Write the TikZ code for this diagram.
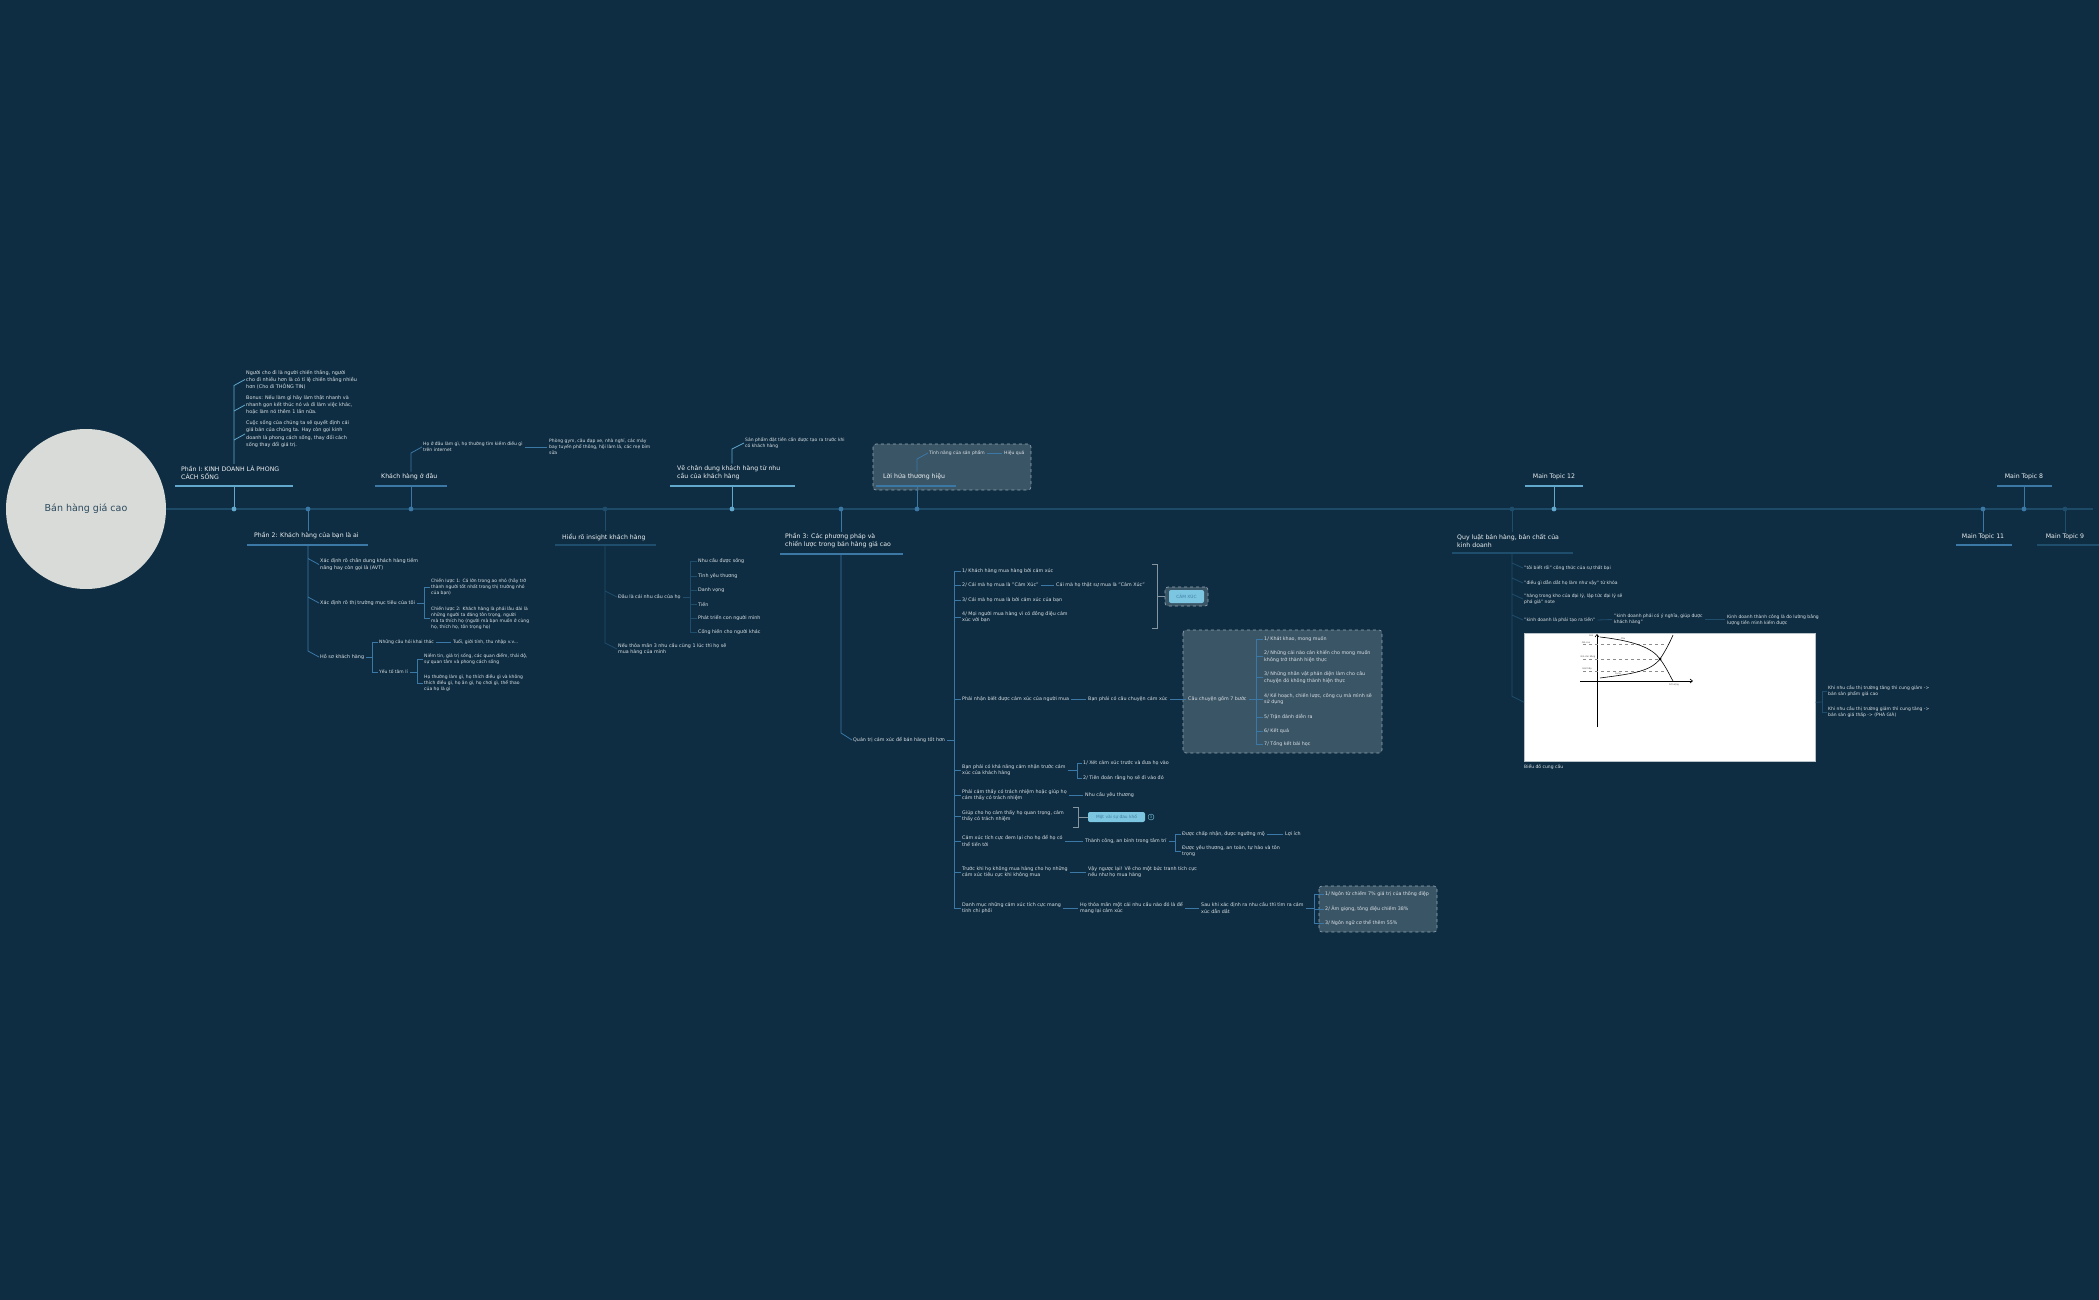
\documentclass[tikz,border=0pt]{standalone}
\usepackage{fontspec}
\setmainfont{DejaVu Sans}
\usetikzlibrary{arrows.meta,positioning,fit}
\definecolor{MapBg}{HTML}{0E2D42}
\definecolor{MapAxis}{HTML}{1D4A66}
\definecolor{MapLight}{HTML}{62A8CC}
\definecolor{MapMid}{HTML}{3B78A6}
\definecolor{MapDark}{HTML}{1F4D6C}
\definecolor{MapText}{HTML}{EEF1F3}
\definecolor{MapSub}{HTML}{DCE2E6}
\definecolor{MapBox}{HTML}{3A5566}
\definecolor{MapDash}{HTML}{9AA8B2}
\definecolor{MapRoot}{HTML}{D8DBD7}
\definecolor{MapRootText}{HTML}{2D4A5E}
\definecolor{MapTag}{HTML}{7CC6E2}
\definecolor{MapTagText}{HTML}{3E7E9E}

\begin{document}
\begin{tikzpicture}[x=1pt,y=-1pt,
  root/.style={circle,fill=MapRoot,minimum size=160pt,inner sep=0pt,
    text=MapRootText,font=\fontsize{9.5}{11}\selectfont},
  topic/.style={anchor=west,inner sep=0pt,align=left,text=MapText,
    font=\fontsize{6.2}{8}\selectfont},
  sub/.style={anchor=west,inner sep=0pt,align=left,text=MapSub,
    font=\fontsize{4.9}{7.2}\selectfont},
  leaf/.style={anchor=west,inner sep=0pt,align=left,text=MapSub,
    font=\fontsize{4.8}{6.2}\selectfont},
  small/.style={anchor=west,inner sep=0pt,align=left,text=MapSub,
    font=\fontsize{4.5}{6}\selectfont},
  axis/.style={draw=MapAxis,line width=1.2pt},
  ulL/.style={draw=MapLight,line width=1.4pt},
  ulM/.style={draw=MapMid,line width=1.4pt},
  ulD/.style={draw=MapDark,line width=1.4pt},
  lnL/.style={draw=MapLight,line width=0.8pt},
  lnM/.style={draw=MapMid,line width=0.8pt},
  lnD/.style={draw=MapDark,line width=0.8pt},
  dashbox/.style={draw=MapDash,dashed,fill=MapBox,rounded corners=3pt,line width=0.6pt},
  bracket/.style={draw=MapDash!85!MapBg,line width=0.7pt},
  tag/.style={fill=MapTag,text=MapTagText,rounded corners=2pt,inner sep=0pt,
    font=\fontsize{4.3}{5}\selectfont},
  plot/.style={draw=black,line width=0.6pt},
  guide/.style={draw=black!45,dashed,line width=0.35pt},
  plotlabel/.style={inner sep=0pt,text=black!70,font=\fontsize{2.2}{2.6}\selectfont}
]
\fill[MapBg] (0,0) rectangle (2099,1300);
\useasboundingbox (0,0) rectangle (2099,1300);

% dashed boundaries behind the texts
\draw[dashbox] (873,444) rectangle (1031,490);
\draw[dashbox] (1183,630) rectangle (1382,753);
\draw[dashbox] (1319,886) rectangle (1437,932);

% central topic and main line
\node[root] (root) at (86,509) {Bán hàng giá cao};
\coordinate (axisend) at (2093,509);
\draw[axis] (root.east) -- (axisend);

% Phan I
\coordinate (p1dot) at (234,509);
\coordinate (p1u) at (234,486);
\node[topic] (p1) at (181,473) {Phần I: KINH DOANH LÀ PHONG\\CÁCH SỐNG};
\node[sub] (p1a) at (246,379.5) {Người cho đi là người chiến thắng, người\\cho đi nhiều hơn là có tỉ lệ chiến thắng nhiều\\hơn (Cho đi THÔNG TIN)};
\node[sub] (p1b) at (246,405) {Bonus: Nếu làm gì hãy làm thật nhanh và\\nhanh gọn kết thúc nó và đi làm việc khác,\\hoặc làm nó thêm 1 lần nữa.};
\node[sub] (p1c) at (246,434) {Cuộc sống của chúng ta sẽ quyết định cái\\giá bán của chúng ta. Hay còn gọi kinh\\doanh là phong cách sống, thay đổi cách\\sống thay đổi giá trị.};
\draw[ulL] (175,486) -- (293,486);
\draw[lnL] (p1dot) -- (p1u);
\draw[lnL] ([yshift=2pt]p1.north -| p1dot) -- ([yshift=-6pt]p1a.west -| p1dot) -- ([xshift=-1pt]p1a.west);
\draw[lnL] ([yshift=-6pt]p1b.west -| p1dot) -- ([xshift=-1pt]p1b.west);
\draw[lnL] ([yshift=-6pt]p1c.west -| p1dot) -- ([xshift=-1pt]p1c.west);
\fill[MapLight] (p1dot) circle (2.4pt);

% Phan 2
\coordinate (p2dot) at (308,509);
\coordinate (p2u) at (308,545);
\node[topic] (p2) at (254,536) {Phần 2: Khách hàng của bạn là ai};
\node[sub] (p2a) at (320,564.5) {Xác định rõ chân dung khách hàng tiềm\\năng hay còn gọi là (AVT)};
\node[sub] (p2b) at (320,603) {Xác định rõ thị trường mục tiêu của tôi};
\node[small] (p2b1) at (431,587.5) {Chiến lược 1: Cá lớn trong ao nhỏ (hãy trở\\thành người tốt nhất trong thị trường nhỏ\\của bạn)};
\node[small] (p2b2) at (431,618) {Chiến lược 2: Khách hàng là phải lâu dài là\\những người ta đáng tôn trọng, người\\mà ta thích họ (người mà bạn muốn ở cùng\\họ, thích họ, tôn trọng họ)};
\node[sub] (p2c) at (320,657) {Hồ sơ khách hàng};
\node[small] (p2c1) at (379,642) {Những câu hỏi khai thác};
\node[small] (p2c1a) at (453,642) {Tuổi, giới tính, thu nhập v.v...};
\node[small] (p2c2) at (379,672) {Yếu tố tâm lí};
\node[small] (p2c2a) at (424,659) {Niềm tin, giá trị sống, các quan điểm, thái độ,\\sự quan tâm và phong cách sống};
\node[small] (p2c2b) at (424,683.5) {Họ thường làm gì, họ thích điều gì và không\\thích điều gì, họ ăn gì, họ chơi gì, thể thao\\của họ là gì};
\draw[ulM] (247,545) -- (368,545);
\draw[lnM] (p2dot) -- ([yshift=2pt]p2.north -| p2dot);
\draw[lnM] (p2u) -- ([yshift=6pt]p2c.west -| p2u) -- ([xshift=-1pt]p2c.west);
\draw[lnM] ([yshift=6pt]p2a.west -| p2u) -- ([xshift=-1pt]p2a.west);
\draw[lnM] ([yshift=6pt]p2b.west -| p2u) -- ([xshift=-1pt]p2b.west);
\coordinate (p2bk) at ([xshift=-7pt]p2b1.west |- p2b.east);
\draw[lnM] ([xshift=2pt]p2b.east) -- (p2bk) |- ([xshift=-1pt]p2b1.west);
\draw[lnM] (p2bk) |- ([xshift=-1pt]p2b2.west);
\coordinate (p2ck) at ([xshift=-7pt]p2c1.west |- p2c.east);
\draw[lnM] ([xshift=2pt]p2c.east) -- (p2ck) |- ([xshift=-1pt]p2c1.west);
\draw[lnM] (p2ck) |- ([xshift=-1pt]p2c2.west);
\draw[lnM] ([xshift=2pt]p2c1.east) -- ([xshift=-2pt]p2c1a.west);
\coordinate (p2c2k) at ([xshift=-7pt]p2c2a.west |- p2c2.east);
\draw[lnM] ([xshift=2pt]p2c2.east) -- (p2c2k) |- ([xshift=-1pt]p2c2a.west);
\draw[lnM] (p2c2k) |- ([xshift=-1pt]p2c2b.west);
\fill[MapMid] (p2dot) circle (2.4pt);

% Khach hang o dau
\coordinate (kddot) at (411,509);
\coordinate (kdu) at (411,486);
\node[topic] (kd) at (381,477) {Khách hàng ở đâu};
\node[small] (kd1) at (423,447) {Họ ở đâu làm gì, họ thường tìm kiếm điều gì\\trên internet};
\node[small] (kd2) at (549,447) {Phòng gym, câu đạp xe, nhà nghỉ, các máy\\bay tuyến phổ thông, hội làm lá, các mẹ bỉm\\sữa};
\draw[ulM] (375,486) -- (447,486);
\draw[lnM] (kddot) -- (kdu);
\draw[lnM] ([yshift=2pt]kd.north -| kddot) -- ([yshift=-6pt]kd1.west -| kddot) -- ([xshift=-1pt]kd1.west);
\draw[lnM] ([xshift=2pt]kd1.east) -- ([xshift=-2pt]kd2.west);
\fill[MapMid] (kddot) circle (2.4pt);

% Hieu ro insight
\coordinate (hrdot) at (605,509);
\coordinate (hru) at (605,545);
\node[topic] (hr) at (562,537) {Hiểu rõ insight khách hàng};
\node[leaf] (hr1) at (618,597) {Đâu là cái nhu cầu của họ};
\node[leaf] (hr1a) at (698,561) {Nhu cầu được sống};
\node[leaf] (hr1b) at (698,576) {Tình yêu thương};
\node[leaf] (hr1c) at (698,590) {Danh vọng};
\node[leaf] (hr1d) at (698,604) {Tiền};
\node[leaf] (hr1e) at (698,618) {Phát triển con người mình};
\node[leaf] (hr1f) at (698,632) {Cống hiến cho người khác};
\node[leaf] (hr2) at (618,649) {Nếu thỏa mãn 3 nhu cầu cùng 1 lúc thì họ sẽ\\mua hàng của mình};
\draw[ulD] (555,545) -- (656,545);
\draw[lnD] (hrdot) -- ([yshift=2pt]hr.north -| hrdot);
\draw[lnD] (hru) -- ([yshift=6pt]hr2.west -| hru) -- ([xshift=-1pt]hr2.west);
\draw[lnD] ([yshift=6pt]hr1.west -| hru) -- ([xshift=-1pt]hr1.west);
\coordinate (hr1k) at ([xshift=-8pt]hr1a.west |- hr1.east);
\draw[lnD] ([xshift=2pt]hr1.east) -- (hr1k);
\draw[lnD] (hr1k) |- ([xshift=-1pt]hr1a.west);
\draw[lnD] (hr1k) |- ([xshift=-1pt]hr1b.west);
\draw[lnD] (hr1k) |- ([xshift=-1pt]hr1c.west);
\draw[lnD] (hr1k) |- ([xshift=-1pt]hr1d.west);
\draw[lnD] (hr1k) |- ([xshift=-1pt]hr1e.west);
\draw[lnD] (hr1k) |- ([xshift=-1pt]hr1f.west);
\fill[MapDark] (hrdot) circle (2.4pt);

% Ve chan dung
\coordinate (vcdot) at (732,509);
\coordinate (vcu) at (732,486);
\node[topic] (vc) at (677,473) {Vẽ chân dung khách hàng từ nhu\\cầu của khách hàng};
\node[small] (vc1) at (745,443) {Sản phẩm đặt tiền cần được tạo ra trước khi\\có khách hàng};
\draw[ulL] (670,486) -- (795,486);
\draw[lnL] (vcdot) -- (vcu);
\draw[lnL] ([yshift=2pt]vc.north -| vcdot) -- ([yshift=-6pt]vc1.west -| vcdot) -- ([xshift=-1pt]vc1.west);
\fill[MapLight] (vcdot) circle (2.4pt);

% Loi hua thuong hieu
\coordinate (lhdot) at (917,509);
\coordinate (lhu) at (917,486);
\node[topic] (lh) at (883,477) {Lời hứa thương hiệu};
\node[small] (lh1) at (929,453) {Tính năng của sản phẩm};
\node[small] (lh2) at (1004,453) {Hiệu quả};
\draw[ulM] (876,486) -- (956,486);
\draw[lnM] (lhdot) -- (lhu);
\draw[lnM] ([yshift=2pt]lh.north -| lhdot) -- ([yshift=-6pt]lh1.west -| lhdot) -- ([xshift=-1pt]lh1.west);
\draw[lnM] ([xshift=2pt]lh1.east) -- ([xshift=-2pt]lh2.west);
\fill[MapMid] (lhdot) circle (2.4pt);

% Phan 3
\coordinate (p3dot) at (841,509);
\coordinate (p3u) at (841,554);
\coordinate (sp3) at (954,740);
\node[topic] (p3) at (785,541) {Phần 3: Các phương pháp và\\chiến lược trong bán hàng giá cao};
\node[leaf] (qt) at (853,740) {Quản trị cảm xúc để bán hàng tốt hơn};
\node[leaf] (c1) at (962,571) {1/ Khách hàng mua hàng bởi cảm xúc};
\node[leaf] (c2) at (962,585) {2/ Cái mà họ mua là "Cảm Xúc"};
\node[leaf] (c2a) at (1056,585) {Cái mà họ thật sự mua là "Cảm Xúc"};
\node[leaf] (c3) at (962,600) {3/ Cái mà họ mua là bởi cảm xúc của bạn};
\node[leaf] (c4) at (962,617) {4/ Mọi người mua hàng vì có đồng điệu cảm\\xúc với bạn};
\node[dashbox,minimum width=43pt,minimum height=19pt,inner sep=0pt] (cxbox) at (1186.5,596.5) {};
\node[tag,minimum width=35pt,minimum height=13pt] (camxuc) at (1186.5,596.5) {CẢM XÚC};
\node[leaf] (c5) at (962,699) {Phải nhận biết được cảm xúc của người mua};
\node[leaf] (c5a) at (1088,699) {Bạn phải có câu chuyện cảm xúc};
\node[leaf] (c5b) at (1188,699) {Câu chuyện gồm 7 bước};
\node[leaf] (st1) at (1264,639) {1/ Khát khao, mong muốn};
\node[leaf] (st2) at (1264,656.5) {2/ Những cái nào cản khiến cho mong muốn\\không trở thành hiện thực};
\node[leaf] (st3) at (1264,677.5) {3/ Những nhân vật phản diện làm cho câu\\chuyện đó không thành hiện thực};
\node[leaf] (st4) at (1264,699) {4/ Kế hoạch, chiến lược, công cụ mà mình sẽ\\sử dụng};
\node[leaf] (st5) at (1264,717) {5/ Trận đánh diễn ra};
\node[leaf] (st6) at (1264,731) {6/ Kết quả};
\node[leaf] (st7) at (1264,744) {7/ Tổng kết bài học};
\node[leaf] (c6) at (962,770) {Bạn phải có khả năng cảm nhận trước cảm\\xúc của khách hàng};
\node[leaf] (c6a) at (1083,763) {1/ Xét cảm xúc trước và đưa họ vào};
\node[leaf] (c6b) at (1083,778) {2/ Tiên đoán rằng họ sẽ đi vào đó};
\node[leaf] (c7) at (962,795) {Phải cảm thấy có trách nhiệm hoặc giúp họ\\cảm thấy có trách nhiệm};
\node[leaf] (c7a) at (1085,795) {Nhu cầu yêu thương};
\node[leaf] (c8) at (962,816) {Giúp cho họ cảm thấy họ quan trọng, cảm\\thấy có trách nhiệm};
\node[tag,minimum width=57pt,minimum height=10pt] (pain) at (1116.5,817) {Một vài sự đau khổ};
\node[circle,draw=MapTag,line width=0.4pt,minimum size=6pt,inner sep=0pt,text=MapTag,
  font=\fontsize{3.5}{4}\selectfont] (paincount) at (1151,817) {3};
\node[leaf] (c9) at (962,841) {Cảm xúc tích cực đem lại cho họ để họ có\\thể tiến tới};
\node[leaf] (c9a) at (1085,841) {Thành công, an bình trong tâm trí};
\node[leaf] (c9b) at (1182,834) {Được chấp nhận, được ngưỡng mộ};
\node[leaf] (c9b1) at (1285,834) {Lợi ích};
\node[leaf] (c9c) at (1182,851) {Được yêu thương, an toàn, tự hào và tôn\\trọng};
\node[leaf] (c10) at (962,872) {Trước khi họ không mua hàng cho họ những\\cảm xúc tiêu cực khi không mua};
\node[leaf] (c10a) at (1088,872) {Vậy ngược lại! Vẽ cho một bức tranh tích cực\\nếu như họ mua hàng};
\node[leaf] (c11) at (962,908) {Danh mục những cảm xúc tích cực mang\\tính chi phối};
\node[leaf] (c11a) at (1080,908) {Họ thỏa mãn một cái nhu cầu nào đó là để\\mang lại cảm xúc};
\node[leaf] (c11b) at (1201,908) {Sau khi xác định ra nhu cầu thì tìm ra cảm\\xúc dẫn dắt};
\node[leaf] (vo1) at (1325,894) {1/ Ngôn từ chiếm 7\% giá trị của thông điệp};
\node[leaf] (vo2) at (1325,909) {2/ Âm giọng, tông điệu chiếm 38\%};
\node[leaf] (vo3) at (1325,923) {3/ Ngôn ngữ cơ thể thêm 55\%};
\draw[ulM] (780,554) -- (903,554);
\draw[lnM] (p3dot) -- ([yshift=2pt]p3.north -| p3dot);
\draw[lnM] (p3u) -- ([yshift=7pt]qt.west -| p3u) -- ([xshift=-1pt]qt.west);
\draw[lnM] ([xshift=2pt]qt.east) -- (sp3);
\draw[lnM] (sp3 |- c1.west) -- (sp3 |- c11.west);
\draw[lnM] (sp3 |- c1.west) -- ([xshift=-1pt]c1.west);
\draw[lnM] (sp3 |- c2.west) -- ([xshift=-1pt]c2.west);
\draw[lnM] (sp3 |- c3.west) -- ([xshift=-1pt]c3.west);
\draw[lnM] (sp3 |- c4.west) -- ([xshift=-1pt]c4.west);
\draw[lnM] (sp3 |- c5.west) -- ([xshift=-1pt]c5.west);
\draw[lnM] (sp3 |- c6.west) -- ([xshift=-1pt]c6.west);
\draw[lnM] (sp3 |- c7.west) -- ([xshift=-1pt]c7.west);
\draw[lnM] (sp3 |- c8.west) -- ([xshift=-1pt]c8.west);
\draw[lnM] (sp3 |- c9.west) -- ([xshift=-1pt]c9.west);
\draw[lnM] (sp3 |- c10.west) -- ([xshift=-1pt]c10.west);
\draw[lnM] (sp3 |- c11.west) -- ([xshift=-1pt]c11.west);
\draw[lnM] ([xshift=2pt]c2.east) -- ([xshift=-2pt]c2a.west);
\coordinate (sumA) at (1157,564);
\coordinate (sumB) at (1157,628);
\draw[bracket] ([xshift=-5pt]sumA) -- (sumA) -- (sumB) -- ([xshift=-5pt]sumB);
\draw[bracket] (sumA |- cxbox.west) -- (cxbox.west);
\draw[lnM] ([xshift=2pt]c5.east) -- ([xshift=-2pt]c5a.west);
\draw[lnM] ([xshift=2pt]c5a.east) -- ([xshift=-2pt]c5b.west);
\coordinate (stk) at ([xshift=-8pt]st1.west |- c5b.east);
\draw[lnM] ([xshift=2pt]c5b.east) -- (stk);
\draw[lnM] (stk) |- ([xshift=-1pt]st1.west);
\draw[lnM] (stk) |- ([xshift=-1pt]st2.west);
\draw[lnM] (stk) |- ([xshift=-1pt]st3.west);
\draw[lnM] (stk) |- ([xshift=-1pt]st4.west);
\draw[lnM] (stk) |- ([xshift=-1pt]st5.west);
\draw[lnM] (stk) |- ([xshift=-1pt]st6.west);
\draw[lnM] (stk) |- ([xshift=-1pt]st7.west);
\coordinate (c6k) at ([xshift=-6pt]c6a.west |- c6.east);
\draw[lnM] ([xshift=2pt]c6.east) -- (c6k) |- ([xshift=-1pt]c6a.west);
\draw[lnM] (c6k) |- ([xshift=-1pt]c6b.west);
\draw[lnM] ([xshift=2pt]c7.east) -- ([xshift=-2pt]c7a.west);
\coordinate (sumC) at (1078,807);
\coordinate (sumD) at (1078,827);
\draw[bracket] ([xshift=-5pt]sumC) -- (sumC) -- (sumD) -- ([xshift=-5pt]sumD);
\draw[bracket] (sumC |- pain.west) -- (pain.west);
\draw[lnM] ([xshift=2pt]c9.east) -- ([xshift=-2pt]c9a.west);
\coordinate (c9k) at ([xshift=-7pt]c9b.west |- c9a.east);
\draw[lnM] ([xshift=2pt]c9a.east) -- (c9k) |- ([xshift=-1pt]c9b.west);
\draw[lnM] (c9k) |- ([xshift=-1pt]c9c.west);
\draw[lnM] ([xshift=2pt]c9b.east) -- ([xshift=-2pt]c9b1.west);
\draw[lnM] ([xshift=2pt]c10.east) -- ([xshift=-2pt]c10a.west);
\draw[lnM] ([xshift=2pt]c11.east) -- ([xshift=-2pt]c11a.west);
\draw[lnM] ([xshift=2pt]c11a.east) -- ([xshift=-2pt]c11b.west);
\coordinate (vok) at ([xshift=-11pt]vo1.west |- c11b.east);
\draw[lnM] ([xshift=2pt]c11b.east) -- (vok);
\draw[lnM] (vok) |- ([xshift=-1pt]vo1.west);
\draw[lnM] (vok) |- ([xshift=-1pt]vo2.west);
\draw[lnM] (vok) |- ([xshift=-1pt]vo3.west);
\fill[MapMid] (p3dot) circle (2.4pt);

% Quy luat ban hang
\coordinate (qldot) at (1512,509);
\coordinate (qlu) at (1512,553);
\node[topic] (ql) at (1457,541) {Quy luật bán hàng, bản chất của\\kinh doanh};
\node[small] (q1) at (1524,568) {"tôi biết rồi" công thức của sự thất bại};
\node[small] (q2) at (1524,583) {"điều gì dẫn dắt họ làm như vậy" từ khóa};
\node[small] (q3) at (1524,599) {"hàng trong kho của đại lý, lập tức đại lý sẽ\\phá giá" note};
\node[small] (q4) at (1524,620) {"kinh doanh là phải tạo ra tiền"};
\node[small] (q4a) at (1614,619.5) {"kinh doanh phải có ý nghĩa, giúp được\\khách hàng"};
\node[small] (q4b) at (1727,619.5) {Kinh doanh thành công là đo lường bằng\\lượng tiền mình kiếm được};
\node[draw=MapDash!70,fill=white,line width=0.5pt,anchor=north west,
  minimum width=291pt,minimum height=128pt,inner sep=0pt] (chart) at (1524,633) {};
\node[small] (chartcap) at (1524,767) {Biểu đồ cung cầu};
\node[small] (qr1) at (1828,691.5) {Khi nhu cầu thị trường tăng thì cung giảm ->\\bán sản phẩm giá cao};
\node[small] (qr2) at (1828,712.5) {Khi nhu cầu thị trường giảm thì cung tăng ->\\bán sản giá thấp -> (PHÁ GIÁ)};
\draw[ulD] (1452,553) -- (1573,553);
\draw[lnD] (qldot) -- ([yshift=2pt]ql.north -| qldot);
\draw[lnD] (qlu) -- ([yshift=1pt]chart.west -| qlu) -- ([yshift=-5pt]chart.west);
\draw[lnD] ([yshift=5pt]q1.west -| qlu) -- ([xshift=-1pt]q1.west);
\draw[lnD] ([yshift=5pt]q2.west -| qlu) -- ([xshift=-1pt]q2.west);
\draw[lnD] ([yshift=5pt]q3.west -| qlu) -- ([xshift=-1pt]q3.west);
\draw[lnD] ([yshift=5pt]q4.west -| qlu) -- ([xshift=-1pt]q4.west);
\draw[lnD] ([xshift=2pt]q4.east) -- ([xshift=-2pt]q4a.west);
\draw[lnD] ([xshift=2pt]q4a.east) -- ([xshift=-2pt]q4b.west);
\coordinate (chk) at ([xshift=-6pt]qr1.west |- 0,702);
\draw[lnD] ([yshift=-5pt]chart.east) -- (chk);
\draw[lnD] (chk) |- ([xshift=-1pt]qr1.west);
\draw[lnD] (chk) |- ([xshift=-1pt]qr2.west);
\fill[MapDark] (qldot) circle (2.4pt);

% supply and demand sketch inside the picture
\draw[plot,-{Straight Barb[length=2.5pt,width=4pt]}] (1597,727) -- (1597,634);
\draw[plot,-{Straight Barb[length=2.5pt,width=4pt]}] (1580,681) -- (1693,681);
\draw[guide] (1583,644) -- (1667,644);
\draw[guide] (1583,659) -- (1660,659);
\draw[guide] (1583,671) -- (1667,671);
\draw[plot] (1600,637) .. controls (1635,641) and (1652,648) .. (1660,659)
  .. controls (1666,667) and (1669,674) .. (1673,681);
\draw[plot] (1600,678) .. controls (1630,674) and (1650,672) .. (1660,659)
  .. controls (1666,650) and (1670,642) .. (1673,635);
\fill (1660,659) circle (1.5pt);
\node[plotlabel] (lblgia) at (1591,636) {Giá};
\node[plotlabel] (lblcau) at (1623,639) {Cầu};
\node[plotlabel] (lblcung) at (1618,674) {Cung};
\node[plotlabel] (lblcao) at (1586,643) {Giá cao};
\node[plotlabel] (lblcb) at (1588,657) {Giá cân bằng};
\node[plotlabel] (lblthap) at (1587,669) {Giá thấp};
\node[plotlabel] (lblsl) at (1674,685) {Số lượng};

% Main Topic 12
\coordinate (m12dot) at (1554,509);
\coordinate (m12u) at (1554,486);
\node[topic,anchor=center] (m12) at (1554,477) {Main Topic 12};
\draw[ulL] (1525,486) -- (1583,486);
\draw[lnL] (m12dot) -- (m12u);
\fill[MapLight] (m12dot) circle (2.4pt);

% Main Topic 11
\coordinate (m11dot) at (1983,509);
\node[topic,anchor=center] (m11) at (1983,537) {Main Topic 11};
\draw[ulM] (1956,545) -- (2012,545);
\draw[lnM] (m11dot) -- ([yshift=2pt]m11.north);
\fill[MapMid] (m11dot) circle (2.4pt);

% Main Topic 8
\coordinate (m8dot) at (2024,509);
\coordinate (m8u) at (2024,486);
\node[topic,anchor=center] (m8) at (2024,477) {Main Topic 8};
\draw[ulM] (1997,486) -- (2052,486);
\draw[lnM] (m8dot) -- (m8u);
\fill[MapMid] (m8dot) circle (2.4pt);

% Main Topic 9
\coordinate (m9dot) at (2065,509);
\node[topic,anchor=center] (m9) at (2065,537) {Main Topic 9};
\draw[ulD] (2037,545) -- (2099,545);
\draw[lnD] (m9dot) -- ([yshift=2pt]m9.north);
\fill[MapDark] (m9dot) circle (2.4pt);
\end{tikzpicture}
\end{document}
